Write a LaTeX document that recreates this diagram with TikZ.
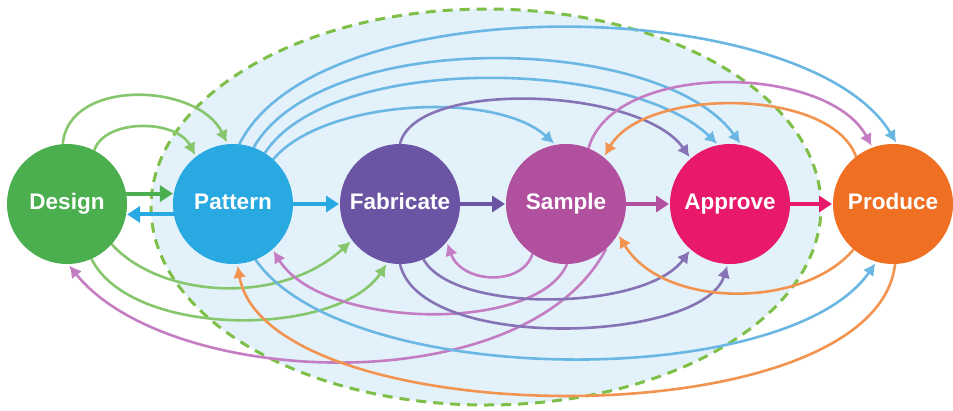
\documentclass[tikz,border=0pt]{standalone}
\usepackage{fontspec}
\setmainfont{Liberation Sans}
\usetikzlibrary{arrows.meta}
\definecolor{cD}{HTML}{4BAE4F}
\definecolor{cP}{HTML}{29A9E1}
\definecolor{cF}{HTML}{6B54A3}
\definecolor{cS}{HTML}{B0509E}
\definecolor{cA}{HTML}{E8196B}
\definecolor{cR}{HTML}{F07023}
\definecolor{gA}{HTML}{86C66C}
\definecolor{bA}{HTML}{6AB7E4}
\definecolor{pA}{HTML}{8573B5}
\definecolor{mA}{HTML}{C47DC2}
\definecolor{oA}{HTML}{F29450}
\definecolor{ellfill}{HTML}{E3F1FA}
\definecolor{elldash}{HTML}{7DBF47}
\pgfdeclarelayer{bglayer}
\pgfdeclarelayer{arrowlayer}
\pgfsetlayers{bglayer,arrowlayer,main}
\tikzset{
  stage/.style={circle, minimum size=120pt, inner sep=0pt, outer sep=0pt,
    text=white, font=\bfseries\fontsize{22.5}{26}\selectfont,
    text height=15pt, text depth=5pt},
  arcarrow/.style={line width=2.6pt, -{Latex[length=12pt,width=13pt]}, shorten >=2pt},
  straightarrow/.style={line width=4pt, -{Triangle[length=13pt,width=16pt]}, shorten >=1pt},
  enclosure/.style={fill=ellfill, draw=elldash, line width=3pt, dash pattern=on 10pt off 7pt}
}
\begin{document}
\begin{tikzpicture}[x=1pt,y=1pt]
\useasboundingbox (0,-410) rectangle (953,0);
\begin{pgfonlayer}{bglayer}
\fill[white] (0,-410) rectangle (953,0);
\path[enclosure] (486,-207) ellipse [x radius=335, y radius=198];
\end{pgfonlayer}

\node[stage, fill=cD] (D) at (67,-204) {Design};
\node[stage, fill=cP] (P) at (233,-204) {Pattern};
\node[stage, fill=cF] (F) at (400,-204) {Fabricate};
\node[stage, fill=cS] (S) at (566,-204) {Sample};
\node[stage, fill=cA] (A) at (730,-204) {Approve};
\node[stage, fill=cR] (R) at (893,-204) {Produce};

\begin{pgfonlayer}{arrowlayer}
% top arcs
\draw[arcarrow, gA] (D.94) .. controls +(5,66) and +(-30,62) .. (P.95);
\draw[arcarrow, gA] (D.63) .. controls +(10,32) and +(-20,38) .. (P.128);
\draw[arcarrow, bA] (P.48) .. controls +(50,60) and +(-60,55) .. (S.100);
\draw[arcarrow, bA] (P.58) .. controls +(65,100) and +(-90,87) .. (A.101);
\draw[arcarrow, bA] (P.70) .. controls +(70,121) and +(-80,111) .. (A.79);
\draw[arcarrow, bA] (P.84) .. controls +(80,160) and +(-90,150) .. (R.86);
\draw[arcarrow, pA] (F.90) .. controls +(15,65) and +(-50,72) .. (A.131);
\draw[arcarrow, mA] (S.68) .. controls +(25,88) and +(-45,84) .. (R.110);
\draw[arcarrow, oA] (R.128) .. controls +(-25,70) and +(40,70) .. (S.51);
% bottom arcs
\draw[arcarrow, gA] (D.-42) .. controls +(50,-55) and +(-70,-65) .. (F.-143);
\draw[arcarrow, gA] (D.-66) .. controls +(40,-80) and +(-50,-75) .. (F.-102);
\draw[arcarrow, mA] (S.-48) .. controls +(-80,-155) and +(100,-125) .. (D.-89);
\draw[arcarrow, mA] (S.-89) .. controls +(-30,-70) and +(50,-80) .. (P.-49);
\draw[arcarrow, mA] (S.-124) .. controls +(-10,-33) and +(15,-42) .. (F.-39);
\draw[arcarrow, pA] (F.-67) .. controls +(30,-55) and +(-45,-62) .. (A.-131);
\draw[arcarrow, pA] (F.-90) .. controls +(20,-89) and +(-25,-79) .. (A.-92);
\draw[arcarrow, bA] (P.-68) .. controls +(90,-130) and +(-90,-130) .. (R.-106);
\draw[arcarrow, oA] (R.-131) .. controls +(-50,-60) and +(45,-75) .. (S.-30);
\draw[arcarrow, oA] (R.-88) .. controls +(-20,-178) and +(30,-170) .. (P.-86);
% straight arrows
\draw[straightarrow, cD] (D.10) -- (P.170);
\draw[straightarrow, cP] (P.190) -- (D.-10);
\draw[straightarrow, cP] (P.east) -- (F.west);
\draw[straightarrow, cF] (F.east) -- (S.west);
\draw[straightarrow, cS] (S.east) -- (A.west);
\draw[straightarrow, cA] (A.east) -- (R.west);
\end{pgfonlayer}
\end{tikzpicture}
\end{document}
